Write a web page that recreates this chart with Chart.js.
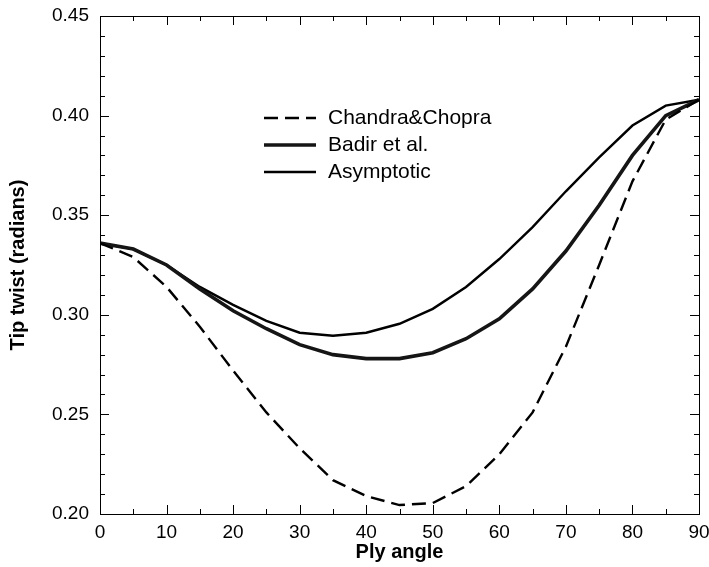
<!DOCTYPE html>
<html>
<head>
<meta charset="utf-8">
<script src="https://cdn.jsdelivr.net/npm/chart.js@4/dist/chart.umd.min.js"></script>
<style>
  html, body { margin: 0; padding: 0; background: #fff; }
  #wrap { width: 709px; height: 567px; }
</style>
</head>
<body>
<div id="wrap"><canvas id="chart_twist"></canvas></div>
<script>
// ply angle (deg)
var angles = [0, 5, 10, 15, 20, 25, 30, 35, 40, 45, 50, 55, 60, 65, 70, 75, 80, 85, 90];
// tip twist (radians)
var chandra = [0.336, 0.329, 0.314, 0.294, 0.272, 0.251, 0.233, 0.217, 0.209, 0.2045, 0.2055, 0.214, 0.230, 0.251, 0.284, 0.325, 0.367, 0.398, 0.408];
var badir = [0.336, 0.333, 0.325, 0.313, 0.302, 0.293, 0.285, 0.280, 0.278, 0.278, 0.281, 0.288, 0.298, 0.313, 0.332, 0.355, 0.380, 0.400, 0.408];
var asymptotic = [0.336, 0.333, 0.325, 0.314, 0.305, 0.297, 0.291, 0.2895, 0.291, 0.2955, 0.303, 0.314, 0.328, 0.344, 0.362, 0.379, 0.395, 0.405, 0.408];

var xTicks = [0, 10, 20, 30, 40, 50, 60, 70, 80, 90];
var xMinor = [5, 15, 25, 35, 45, 55, 65, 75, 85];
var yTicks = [0.20, 0.25, 0.30, 0.35, 0.40, 0.45];
var yMinor = [0.21, 0.22, 0.23, 0.24, 0.26, 0.27, 0.28, 0.29, 0.31, 0.32, 0.33, 0.34,
              0.36, 0.37, 0.38, 0.39, 0.41, 0.42, 0.43, 0.44];

function pts(arr) {
  return angles.map(function(a, i) { return { x: a, y: arr[i] }; });
}

// box with inward ticks on all four sides
var frame = {
  id: 'frame',
  afterDraw: function(c) {
    var ctx = c.ctx, a = c.chartArea, xs = c.scales.x, ys = c.scales.y;
    ctx.save();
    ctx.strokeStyle = '#000';
    ctx.lineWidth = 1;
    ctx.strokeRect(a.left + 0.5, a.top + 0.5, a.right - a.left, a.bottom - a.top);
    ctx.beginPath();
    function xt(v, len) {
      var p = Math.round(xs.getPixelForValue(v)) + 0.5;
      ctx.moveTo(p, a.bottom); ctx.lineTo(p, a.bottom - len);
      ctx.moveTo(p, a.top); ctx.lineTo(p, a.top + len);
    }
    function yt(v, len) {
      var p = Math.round(ys.getPixelForValue(v)) + 0.5;
      ctx.moveTo(a.left, p); ctx.lineTo(a.left + len, p);
      ctx.moveTo(a.right, p); ctx.lineTo(a.right - len, p);
    }
    xTicks.forEach(function(v) { xt(v, 9); });
    xMinor.forEach(function(v) { xt(v, 5); });
    yTicks.forEach(function(v) { yt(v, 9); });
    yMinor.forEach(function(v) { yt(v, 5); });
    ctx.stroke();
    ctx.restore();
  }
};

// legend drawn inside the plot
var inLegend = {
  id: 'inLegend',
  afterDraw: function(c) {
    var ctx = c.ctx, a = c.chartArea;
    var x0 = a.left + 164, y0 = a.top + 102, row = 27;
    ctx.save();
    ctx.font = '21px "Liberation Sans", Arial, sans-serif';
    ctx.textBaseline = 'middle';
    ctx.fillStyle = '#000';
    c.data.datasets.forEach(function(ds, i) {
      var y = y0 + i * row;
      ctx.beginPath();
      ctx.strokeStyle = ds.borderColor;
      ctx.lineWidth = ds.borderWidth;
      ctx.setLineDash(ds.borderDash || []);
      ctx.moveTo(x0, y);
      ctx.lineTo(x0 + 52, y);
      ctx.stroke();
      ctx.setLineDash([]);
      ctx.fillText(ds.label, x0 + 64, y);
    });
    ctx.restore();
  }
};

var cha = new Chart(document.getElementById('chart_twist'), {
  type: 'line',
  data: {
    datasets: [{
      label: 'Chandra&Chopra',
      data: pts(chandra),
      borderColor: '#000',
      borderWidth: 2.4,
      borderDash: [14, 7],
      pointRadius: 0,
      tension: 0
    }, {
      label: 'Badir et al.',
      data: pts(badir),
      borderColor: '#151515',
      borderWidth: 3.6,
      pointRadius: 0,
      tension: 0
    }, {
      label: 'Asymptotic',
      data: pts(asymptotic),
      borderColor: '#000',
      borderWidth: 2.4,
      pointRadius: 0,
      tension: 0
    }]
  },
  options: {
    responsive: true,
    maintainAspectRatio: false,
    animation: false,
    layout: { padding: { top: 16, right: 10, left: 0, bottom: 0 } },
    plugins: { legend: { display: false }, tooltip: { enabled: false } },
    scales: {
      x: {
        type: 'linear',
        min: 0, max: 90,
        afterFit: function(s) { s.height = 53; s.paddingLeft = 0; s.paddingRight = 0; },
        afterBuildTicks: function(s) { s.ticks = xTicks.map(function(v) { return { value: v }; }); },
        grid: { display: false, drawTicks: false },
        border: { display: false },
        ticks: { color: '#000', padding: 7, maxRotation: 0,
          font: { family: '"Liberation Sans", Arial, sans-serif', size: 19 } },
        title: { display: true, text: 'Ply angle', color: '#000', padding: { top: 0, bottom: 3 },
          font: { family: '"Liberation Sans", Arial, sans-serif', size: 20, weight: 'bold' } }
      },
      y: {
        min: 0.2, max: 0.45,
        afterFit: function(s) { s.width = 100; s.paddingTop = 0; s.paddingBottom = 0; },
        afterBuildTicks: function(s) { s.ticks = yTicks.map(function(v) { return { value: v }; }); },
        grid: { display: false, drawTicks: false },
        border: { display: false },
        ticks: { color: '#000', padding: 11,
          callback: function(v) { return Number(v).toFixed(2); },
          font: { family: '"Liberation Sans", Arial, sans-serif', size: 19 } },
        title: { display: true, text: 'Tip twist (radians)', color: '#000', padding: { top: 6, bottom: 0 },
          font: { family: '"Liberation Sans", Arial, sans-serif', size: 20, weight: 'bold' } }
      }
    }
  },
  plugins: [frame, inLegend]
});
</script>
</body>
</html>
